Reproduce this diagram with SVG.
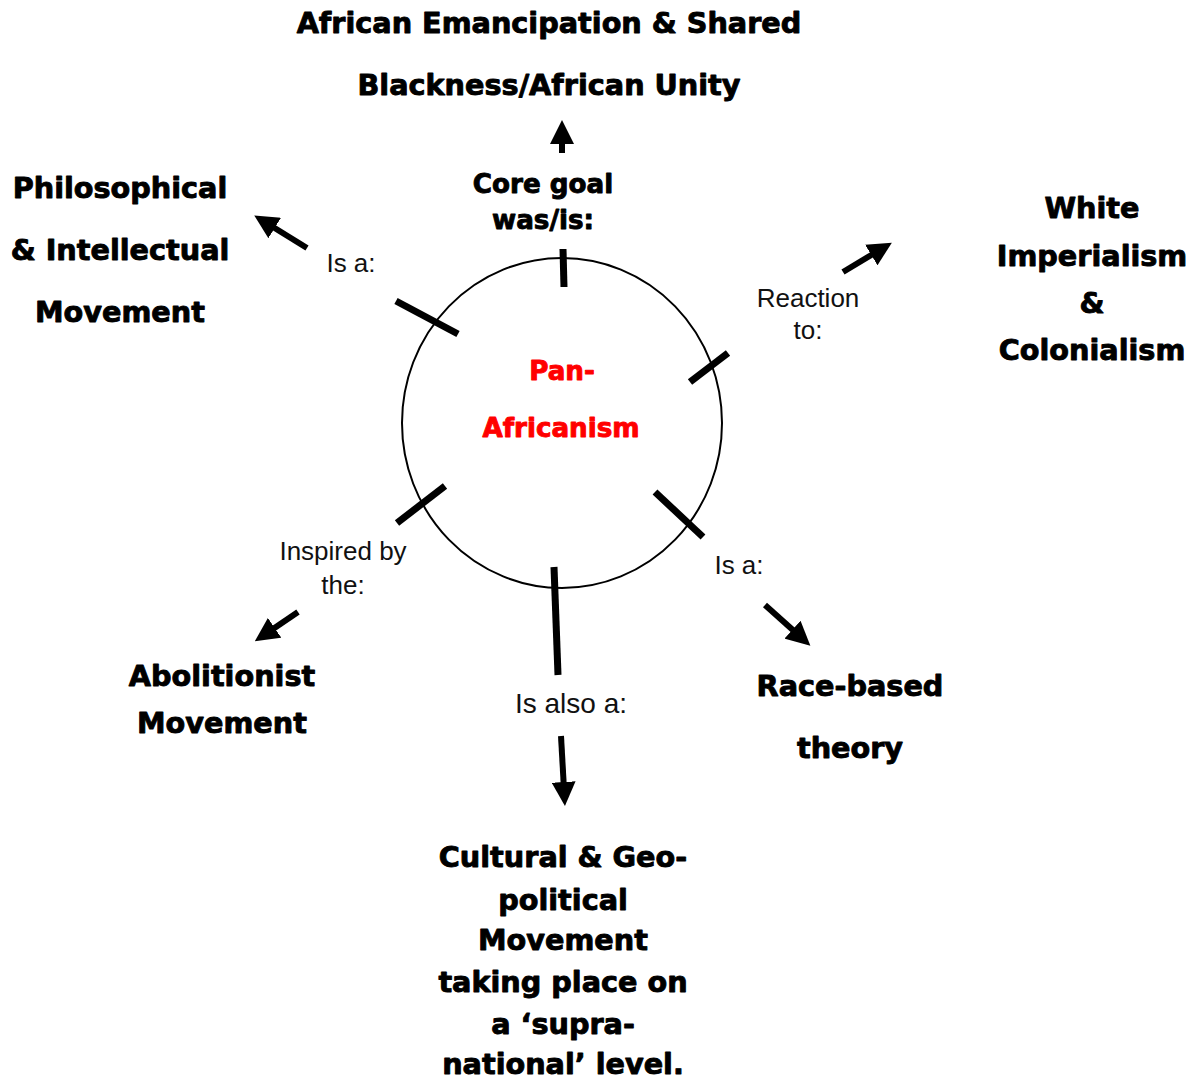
<svg xmlns="http://www.w3.org/2000/svg" width="1197" height="1079" viewBox="0 0 1197 1079">
  <style>
    .hd { font-family: "DejaVu Sans", "Liberation Sans", sans-serif; font-weight: bold; font-size: 28.7px; text-anchor: middle; fill: #000; stroke: #000; stroke-width: 0.9px; stroke-linejoin: round; }
    .sm { font-size: 26.2px; }
    .red { fill: #ff0000; stroke: #ff0000; }
    .lb { font-family: "Liberation Sans", Arial, sans-serif; font-size: 26px; text-anchor: middle; fill: #111; }
    .tick { stroke: #000; stroke-width: 7; fill: none; }
    .arr { stroke: #000; stroke-width: 6; fill: none; marker-end: url(#head); }
  </style>
  <defs>
    <marker id="head" viewBox="0 0 24 24" markerWidth="24" markerHeight="24" refX="2" refY="12" orient="auto" markerUnits="userSpaceOnUse">
      <path d="M0,0 L24,12 L0,24 z" fill="#000"/>
    </marker>
  </defs>
  <rect width="1197" height="1079" fill="#fff"/>

  <!-- centre -->
  <g id="pan-africanism">
    <ellipse cx="562" cy="423" rx="160" ry="165" fill="none" stroke="#000" stroke-width="2"/>
    <text class="hd sm red" x="562" y="380">Pan-</text>
    <text class="hd sm red" x="561" y="437">Africanism</text>
  </g>

  <!-- connectors: spokes from the circle, then arrows past their labels -->
  <g id="connectors">
    <line class="tick" x1="563" y1="249" x2="564" y2="287"/>
    <line class="arr" x1="562" y1="153" x2="562" y2="142"/>

    <line class="tick" x1="458" y1="334" x2="396" y2="301"/>
    <line class="arr" x1="307" y1="248" x2="273" y2="227"/>

    <line class="tick" x1="690" y1="382" x2="728" y2="353"/>
    <line class="arr" x1="843" y1="272" x2="873" y2="254"/>

    <line class="tick" x1="445" y1="486" x2="397" y2="523"/>
    <line class="arr" x1="298" y1="612" x2="273" y2="629"/>

    <line class="tick" x1="655" y1="492" x2="703" y2="537"/>
    <line class="arr" x1="765" y1="605" x2="794" y2="631"/>

    <line class="tick" x1="554" y1="567" x2="558" y2="675"/>
    <line class="arr" x1="561" y1="736" x2="563.7" y2="784"/>
  </g>

  <!-- connector labels -->
  <g id="labels">
    <text class="hd sm" x="543" y="193">Core goal</text>
    <text class="hd sm" x="543" y="229">was/is:</text>
    <text class="lb" x="351" y="272">Is a:</text>
    <text class="lb" x="808" y="307">Reaction</text>
    <text class="lb" x="808" y="339">to:</text>
    <text class="lb" x="343" y="560">Inspired by</text>
    <text class="lb" x="343" y="594">the:</text>
    <text class="lb" x="739" y="574">Is a:</text>
    <text class="lb" x="571" y="713" style="font-size:28px">Is also a:</text>
  </g>

  <g id="goal">
    <text class="hd" x="549" y="33">African Emancipation &amp; Shared</text>
    <text class="hd" x="549" y="95">Blackness/African Unity</text>
  </g>

  <g id="philosophical">
    <text class="hd" x="120" y="198">Philosophical</text>
    <text class="hd" x="120" y="260">&amp; Intellectual</text>
    <text class="hd" x="120" y="322">Movement</text>
  </g>

  <g id="imperialism">
    <text class="hd" x="1092" y="218">White</text>
    <text class="hd" x="1092" y="266">Imperialism</text>
    <text class="hd" x="1092" y="313">&amp;</text>
    <text class="hd" x="1092" y="360">Colonialism</text>
  </g>

  <g id="abolitionist">
    <text class="hd" x="222" y="686">Abolitionist</text>
    <text class="hd" x="222" y="733">Movement</text>
  </g>

  <g id="race-based">
    <text class="hd" x="850" y="696">Race-based</text>
    <text class="hd" x="850" y="758">theory</text>
  </g>

  <g id="cultural">
    <text class="hd" x="563" y="867">Cultural &amp; Geo-</text>
    <text class="hd" x="563" y="910">political</text>
    <text class="hd" x="563" y="950">Movement</text>
    <text class="hd" x="563" y="992">taking place on</text>
    <text class="hd" x="563" y="1034">a ‘supra-</text>
    <text class="hd" x="563" y="1074">national’ level.</text>
  </g>
</svg>
